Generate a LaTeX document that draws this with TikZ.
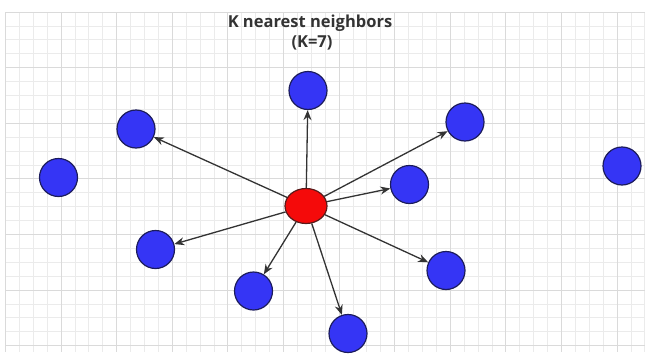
\documentclass[tikz,border=0pt]{standalone}
\usepackage{fontspec}
\setmainfont{Open Sans}
\usetikzlibrary{arrows.meta,shapes.geometric}
\definecolor{gridminor}{HTML}{EBEBEB}
\definecolor{gridmajor}{HTML}{DADADA}
\definecolor{bluefill}{HTML}{3535F5}
\definecolor{blueedge}{HTML}{1C1C5C}
\definecolor{redfill}{HTML}{F50A0A}
\definecolor{rededge}{HTML}{5A1A1A}
\definecolor{arrowc}{HTML}{333333}
\definecolor{titlec}{HTML}{333333}
\begin{document}
\begin{tikzpicture}[x=1pt,y=-1pt,
  pt/.style={circle,minimum size=38pt,inner sep=0pt,fill=bluefill,draw=blueedge,line width=1.2pt},
  query/.style={ellipse,minimum width=42pt,minimum height=35pt,inner sep=0pt,fill=redfill,draw=rededge,line width=1.2pt},
  arr/.style={draw=arrowc,line width=1.3pt,-{Stealth[length=10pt,width=8pt]}},
  ttl/.style={font=\bfseries\fontsize{16.5}{19}\selectfont,text=titlec,inner sep=0pt}]
\fill[white] (0,0) rectangle (652,356);
\useasboundingbox (0,0) rectangle (652,356);
% grid
\foreach \i in {0,...,46}{\draw[gridminor,line width=0.8pt] ({5.4+13.9*\i},12) -- ({5.4+13.9*\i},352);}
\foreach \j in {0,...,24}{\draw[gridminor,line width=0.8pt] (5.4,{12+13.9*\j}) -- (644.8,{12+13.9*\j});}
\foreach \i in {0,4,...,44}{\draw[gridmajor,line width=0.9pt] ({5.4+13.9*\i},12) -- ({5.4+13.9*\i},352);}
\foreach \j in {0,4,...,24}{\draw[gridmajor,line width=0.9pt] (5.4,{12+13.9*\j}) -- (644.8,{12+13.9*\j});}
% title
\node[ttl] (title) at (310,23) {K nearest neighbors};
\node[ttl] (kval) at (312,43) {(K=7)};
% points
\node[query] (c) at (306,206) {};
\node[pt] (ul) at (136,129) {};
\node[pt] (top) at (308,90.5) {};
\node[pt] (ur) at (465,122) {};
\node[pt] (r) at (409.5,184.5) {};
\node[pt] (far) at (622,166) {};
\node[pt] (left) at (58.5,177.5) {};
\node[pt] (ll) at (155.5,249.5) {};
\node[pt] (lb) at (253.5,291) {};
\node[pt] (bot) at (348,333.5) {};
\node[pt] (lr) at (446,270.5) {};
% arrows
\foreach \t in {ul,top,ur,r,ll,lb,bot,lr}{\draw[arr] (c) -- (\t);}
\end{tikzpicture}
\end{document}
